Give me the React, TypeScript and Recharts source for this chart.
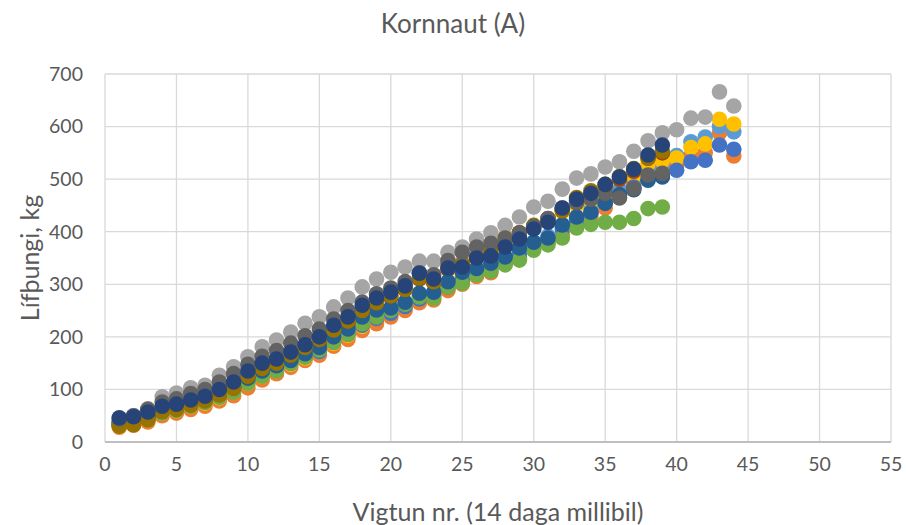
import React from 'react';
import { ScatterChart, Scatter, XAxis, YAxis, CartesianGrid, Label } from 'recharts';

// vigtun nr. (every 14 days)
const vigtun = [
  1, 2, 3, 4, 5, 6, 7, 8, 9, 10, 11, 12, 13, 14, 15, 16, 17, 18, 19, 20, 21, 22,
  23, 24, 25, 26, 27, 28, 29, 30, 31, 32, 33, 34, 35, 36, 37, 38, 39, 40, 41, 42, 43, 44,
];

// lífþungi, kg per animal
const blue = [32, 36, 44, 56, 62, 70, 76, 86, 98, 115, 128, 138, 150, 162, 172, 190, 205, 222, 235, 245, 258, 272, 278, 295, 308, 322, 330, 345, 358, 375, 385, 405, 418, 435, 455, 470, 485, 500, 508, 517, 533, 536, 565, 557];
const orange = [28, 32, 38, 50, 55, 62, 68, 78, 88, 103, 118, 130, 142, 155, 165, 182, 195, 212, 225, 238, 250, 265, 270, 288, 300, 315, 322, 338, 350, 368, 380, 395, 412, 428, 445, 470, 490, 510, 520, 525, 545, 550, 588, 544];
const gray = [42, 50, 63, 86, 93, 103, 108, 127, 143, 162, 181, 194, 209, 226, 238, 257, 274, 295, 310, 323, 333, 344, 344, 361, 371, 386, 398, 412, 428, 447, 458, 481, 502, 510, 523, 533, 553, 573, 588, 594, 616, 618, 666, 639];
const gold = [30, 35, 42, 55, 60, 68, 74, 84, 96, 112, 125, 136, 148, 160, 172, 188, 203, 220, 235, 247, 260, 275, 282, 300, 315, 330, 360, 390, 398, 410, 420, 438, 450, 458, 460, 465, 505, 530, 535, 540, 560, 567, 614, 605];
const lightBlue = [34, 38, 46, 58, 64, 72, 78, 88, 100, 118, 130, 140, 152, 165, 176, 194, 208, 228, 240, 250, 262, 278, 283, 300, 312, 328, 336, 352, 365, 380, 392, 410, 425, 445, 470, 480, 504, 515, 530, 545, 571, 580, 600, 590];
const green = [33, 38, 45, 55, 60, 68, 75, 85, 95, 112, 125, 135, 150, 162, 175, 190, 205, 225, 238, 250, 262, 276, 274, 295, 302, 318, 325, 337, 346, 365, 375, 388, 407, 414, 418, 418, 425, 444, 447];
const navy = [46, 48, 57, 68, 72, 80, 87, 100, 114, 135, 150, 158, 171, 185, 200, 222, 238, 260, 274, 285, 297, 321, 310, 331, 333, 350, 354, 371, 386, 405, 418, 445, 462, 473, 490, 504, 519, 546, 565];
const darkOrange = [35, 40, 48, 58, 65, 72, 80, 90, 104, 122, 138, 148, 160, 175, 190, 208, 225, 245, 262, 275, 290, 310, 303, 328, 338, 350, 358, 375, 390, 408, 420, 442, 460, 470, 485, 500, 515, 540, 550];
const darkGray = [44, 50, 62, 76, 82, 92, 100, 114, 130, 148, 163, 174, 188, 202, 215, 234, 250, 266, 282, 293, 305, 322, 318, 345, 361, 371, 378, 388, 398, 410, 425, 445, 455, 462, 473, 464, 482, 508, 511];
const darkGold = [30, 33, 42, 58, 62, 70, 78, 90, 102, 125, 140, 150, 165, 180, 195, 213, 230, 250, 265, 278, 290, 312, 305, 335, 340, 352, 365, 385, 398, 412, 425, 440, 465, 478, 490, 505, 520, 540, 553];
const steelBlue = [38, 42, 50, 62, 68, 75, 82, 92, 105, 122, 135, 145, 155, 168, 180, 200, 215, 238, 251, 255, 266, 283, 285, 305, 323, 330, 340, 352, 369, 380, 388, 413, 428, 437, 454, 470, 480, 498, 504];

const xTicks = [0, 5, 10, 15, 20, 25, 30, 35, 40, 45, 50, 55];
const yTicks = [0, 100, 200, 300, 400, 500, 600, 700];

// drawing order, last one ends on top
const series = [
  { name: 'orange', values: orange, color: '#ED7D31' },
  { name: 'lightBlue', values: lightBlue, color: '#5B9BD5' },
  { name: 'gold', values: gold, color: '#FFC000' },
  { name: 'blue', values: blue, color: '#4472C4' },
  { name: 'green', values: green, color: '#70AD47' },
  { name: 'gray', values: gray, color: '#A5A5A5' },
  { name: 'darkOrange', values: darkOrange, color: '#9E480E' },
  { name: 'steelBlue', values: steelBlue, color: '#255E91' },
  { name: 'darkGold', values: darkGold, color: '#997300' },
  { name: 'darkGray', values: darkGray, color: '#636363' },
  { name: 'navy', values: navy, color: '#264478' },
];

const toPoints = (values: number[]) => values.map((v, i) => ({ x: vigtun[i], y: v }));

const FONT = 'Lato, "Open Sans", sans-serif';
const TEXT = '#595959';

const dot = (color: string) => (props: any) => (
  <circle cx={props.cx} cy={props.cy} r={7.8} fill={color} />
);

export default function App() {
  return (
    <div style={{ position: 'absolute', left: 0, top: 0, width: 906, height: 525, background: '#fff', fontFamily: FONT }}>
      <div style={{ position: 'absolute', top: 7, width: 906, textAlign: 'center', fontSize: 26, color: TEXT }}>
        Kornnaut (A)
      </div>
      <ScatterChart width={906} height={525} margin={{ top: 74, right: 15, bottom: 0, left: 0 }}>
        <CartesianGrid stroke="#d9d9d9" strokeWidth={1.3} />
        <XAxis
          type="number"
          dataKey="x"
          domain={[0, 55]}
          ticks={xTicks}
          height={83}
          tickSize={0}
          tickMargin={15}
          stroke="#bfbfbf"
          strokeWidth={2}
          tick={{ fill: TEXT, fontSize: 19.5, fontFamily: FONT }}
        >
          <Label
            value="Vigtun nr. (14 daga millibil)"
            position="insideBottom"
            offset={4}
            style={{ fill: TEXT, fontSize: 25, fontFamily: FONT }}
          />
        </XAxis>
        <YAxis
          type="number"
          dataKey="y"
          domain={[0, 700]}
          ticks={yTicks}
          width={105}
          tickSize={0}
          tickMargin={22}
          axisLine={false}
          tick={{ fill: TEXT, fontSize: 19.5, fontFamily: FONT }}
        >
          <Label
            value="Lífþungi, kg"
            angle={-90}
            position="insideLeft"
            offset={30}
            style={{ fill: TEXT, fontSize: 25, fontFamily: FONT, textAnchor: 'middle' }}
          />
        </YAxis>
        {series.map((s) => (
          <Scatter
            key={s.name}
            name={s.name}
            data={toPoints(s.values)}
            fill={s.color}
            shape={dot(s.color)}
            isAnimationActive={false}
          />
        ))}
      </ScatterChart>
    </div>
  );
}
